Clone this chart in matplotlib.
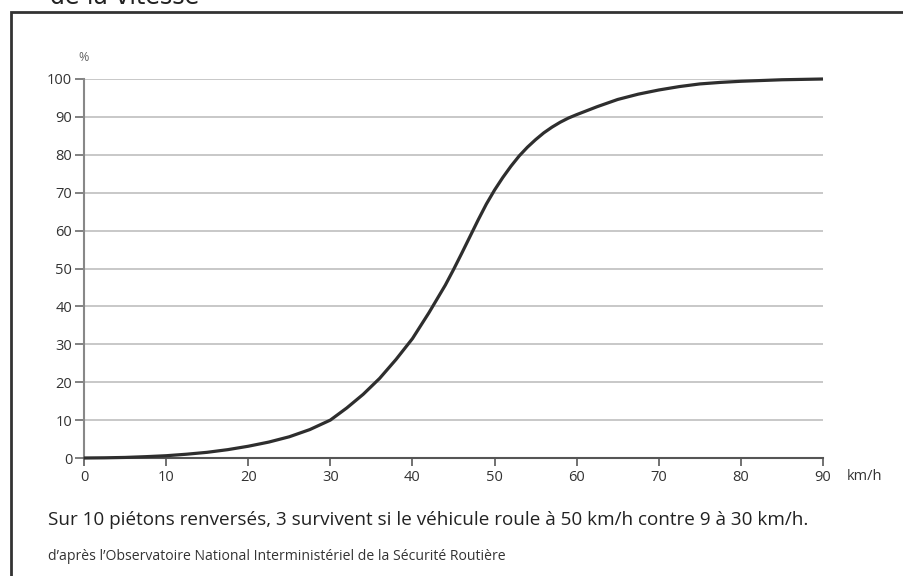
import matplotlib
matplotlib.use('Agg')
import matplotlib.pyplot as plt
from matplotlib.patches import Rectangle

plt.rcParams['font.family'] = ['Open Sans', 'DejaVu Sans']

# vitesse (km/h) et probabilité de décès du piéton (%)
vitesse = [0, 2.5, 5, 7.5, 10, 12.5, 15, 17.5, 20, 22.5, 25, 27.5, 30,
           32, 34, 36, 38, 40, 42, 44, 45, 46, 47, 48, 49, 50, 51, 52, 53,
           54, 55, 56, 57, 58, 59, 60, 62.5, 65, 67.5, 70, 72.5, 75, 77.5,
           80, 82.5, 85, 87.5, 90]
deces = [0, 0.05, 0.15, 0.35, 0.6, 1.0, 1.5, 2.2, 3.1, 4.2, 5.6, 7.5, 10,
         13.2, 16.8, 21, 26, 31.5, 38.3, 45.6, 49.7, 54, 58.4, 62.8, 67, 70.7,
         74, 77, 79.7, 82, 84, 85.8, 87.3, 88.6, 89.7, 90.6, 92.7, 94.6, 96,
         97.1, 98, 98.7, 99.1, 99.4, 99.6, 99.8, 99.9, 100]

x_ticks = list(range(0, 91, 10))
y_ticks = list(range(0, 101, 10))

fig = plt.figure(figsize=(9.04, 5.76), dpi=100)
ax = fig.add_axes([84 / 904, 1 - 458 / 576, (823 - 84) / 904, (458 - 79) / 576])

# grille horizontale
for yv in y_ticks[1:]:
    ax.axhline(yv, color='#c4c4c4', lw=1.3, zorder=1)

ax.plot(vitesse, deces, color='#2e2e2e', lw=2.3, zorder=3, clip_on=False,
        solid_capstyle='butt', solid_joinstyle='round')

ax.set_xlim(0, 90)
ax.set_ylim(0, 100)
ax.set_xticks(x_ticks)
ax.set_yticks(y_ticks)
ax.tick_params(axis='x', length=6, width=1.3, color='#666666', pad=2.5,
               labelsize=10.5, labelcolor='#333333')
ax.tick_params(axis='y', length=6.5, width=1.3, color='#777777', pad=2,
               labelsize=10.5, labelcolor='#333333')

for s in ['top', 'right']:
    ax.spines[s].set_visible(False)
ax.spines['left'].set_color('#888888')
ax.spines['left'].set_linewidth(1.5)
ax.spines['bottom'].set_color('#555555')
ax.spines['bottom'].set_linewidth(1.5)

ax.text(0, 105.8, '%', fontsize=9, color='#666666', ha='center', va='center')
ax.text(92.9, -5.0, 'km/h', fontsize=10.5, color='#333333', ha='left', va='center')

# cadre
fig.add_artist(Rectangle((11 / 904, -0.1), 1.1, 1 - 12.5 / 576 + 0.1,
                         transform=fig.transFigure, fill=False,
                         edgecolor='#333333', lw=2))

fig.text(50 / 904, 1 - 4.5 / 576, 'de la vitesse', fontsize=17,
         family='DejaVu Sans', color='#222222', ha='left', va='baseline')

fig.text(48 / 904, 1 - 520 / 576,
         'Sur 10 piétons renversés, 3 survivent si le véhicule roule à 50 km/h contre 9 à 30 km/h.',
         fontsize=13.6, color='#222222', ha='left', va='center')
fig.text(48 / 904, 1 - 556 / 576,
         'd\u2019après l\u2019Observatoire National Interministériel de la Sécurité Routière',
         fontsize=10.1, color='#333333', ha='left', va='center')

fig.savefig('out.png', dpi=100, facecolor='white')
